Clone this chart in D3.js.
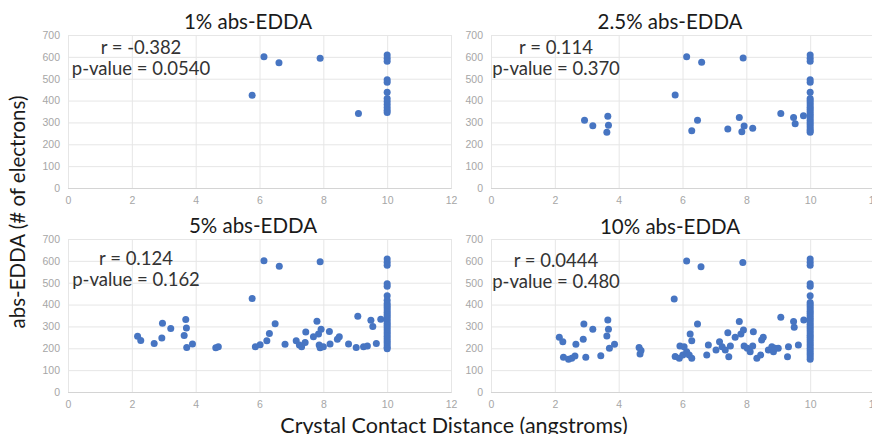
<!DOCTYPE html>
<html>
<head>
<meta charset="utf-8">
<script src="https://cdn.jsdelivr.net/npm/d3@7"></script>
<style>
  body { margin: 0; background: #fff; }
  svg { font-family: Lato, "Open Sans", sans-serif; }
</style>
</head>
<body>
<div class="edda-plot"></div>
<script>
// values (distance in angstroms, abs-EDDA in # of electrons)
const dist1 = [5.77, 6.14, 6.61, 7.9, 9.1, 10, 10, 10, 10, 10, 10, 10, 10, 10, 10, 10, 10];
const edda1 = [424, 600, 573, 594, 341, 608, 594, 580, 495, 484, 438, 410, 396, 382, 368, 356, 345];

const dist2 = [2.93, 3.19, 3.66, 3.68, 3.63, 5.77, 6.13, 6.6, 7.9, 6.29, 6.47, 7.42, 7.78, 7.86, 7.93, 8.2, 9.08, 9.48, 9.53, 9.79,
               10, 10, 10, 10, 10, 10, 10, 10, 10, 10, 10, 10, 10, 10, 10, 10, 10, 10, 10, 10, 10, 10, 10];
const edda2 = [310, 285, 328, 287, 255, 425, 600, 575, 595, 262, 310, 270, 322, 257, 284, 273, 341, 323, 294, 330,
               608, 594, 580, 495, 484, 438, 410, 400, 390, 380, 370, 360, 350, 340, 330, 320, 310, 300, 290, 280, 270, 262, 255];

const dist3 = [2.18, 2.28, 2.7, 2.94, 2.96, 3.22, 3.69, 3.71, 3.64, 3.72, 3.9, 4.63, 4.71, 5.77, 5.87, 6.02, 6.14, 6.23, 6.31, 6.49,
               6.62, 6.8, 7.15, 7.25, 7.32, 7.43, 7.45, 7.69, 7.8, 7.85, 7.93, 7.87, 7.9, 7.9, 8.0, 8.21, 8.19, 8.44, 8.5, 8.79,
               9.03, 9.26, 9.38, 9.66, 9.08, 9.49, 9.55, 9.8,
               10, 10, 10, 10, 10, 10, 10, 10, 10, 10, 10, 10, 10, 10, 10, 10, 10, 10, 10, 10, 10, 10, 10, 10, 10, 10, 10, 10, 10];
const edda3 = [255, 236, 222, 247, 315, 290, 332, 293, 259, 204, 220, 203, 207, 428, 207, 216, 600, 235, 268, 312,
               575, 218, 235, 215, 207, 226, 274, 253, 324, 265, 287, 215, 203, 596, 207, 220, 277, 241, 253, 220,
               204, 207, 210, 222, 346, 328, 300, 333,
               608, 594, 580, 495, 484, 440, 420, 405, 395, 385, 375, 365, 355, 345, 335, 325, 315, 305, 295, 285, 275, 265, 255, 245, 235, 225, 215, 205, 198];

const dist4 = [2.14, 2.25, 2.27, 2.43, 2.53, 2.63, 2.66, 2.91, 2.89, 2.97, 3.19, 3.44, 3.66, 3.68, 3.63, 3.71, 3.87, 4.64, 4.67, 4.7,
               5.74, 6.13, 6.58, 7.89, 6.47, 6.24, 6.29, 5.92, 6.05, 5.77, 5.9, 6.01, 6.13, 6.21, 6.29, 6.76, 6.81, 7.05, 7.16, 7.24,
               7.34, 7.42, 7.45, 7.5, 7.65, 7.78, 7.83, 7.91, 7.93, 8.03, 8.12, 8.22, 8.2, 8.33, 8.45, 8.48, 8.53, 8.69, 8.8, 8.85,
               8.9, 9.0, 9.08, 9.29, 9.32, 9.48, 9.5, 9.63, 9.8,
               10, 10, 10, 10, 10, 10, 10, 10, 10, 10, 10, 10, 10, 10, 10, 10, 10, 10, 10, 10, 10, 10, 10, 10, 10, 10, 10, 10, 10, 10, 10, 10, 10];
const edda4 = [250, 230, 159, 150, 154, 165, 218, 311, 241, 159, 287, 166, 329, 287, 256, 200, 218, 204, 174, 190,
               425, 599, 573, 593, 311, 265, 235, 210, 207, 162, 154, 169, 184, 169, 154, 169, 215, 192, 230, 207,
               192, 271, 161, 210, 250, 322, 265, 284, 210, 200, 184, 276, 210, 154, 169, 238, 250, 192, 207, 184,
               200, 200, 342, 161, 207, 322, 296, 215, 329,
               608, 594, 580, 495, 484, 440, 410, 400, 390, 380, 370, 360, 350, 340, 330, 320, 310, 300, 290, 280, 270, 260, 250, 240, 230, 220, 210, 200, 190, 180, 170, 160, 150];

const titles = ['1% abs-EDDA', '2.5% abs-EDDA', '5% abs-EDDA', '10% abs-EDDA'];
const rValues = ['-0.382', '0.114', '0.124', '0.0444'];
const pValues = ['0.0540', '0.370', '0.162', '0.480'];

const xTicks = [0, 2, 4, 6, 8, 10, 12];
const yTicks = [0, 100, 200, 300, 400, 500, 600, 700];

const panels = [
    {dist: dist1, edda: edda1, left: 68, top: 35, titleX: 248, titleY: 29, statX: 141, statY: 54},
    {dist: dist2, edda: edda2, left: 491, top: 35, titleX: 670, titleY: 29, statX: 556, statY: 54},
    {dist: dist3, edda: edda3, left: 68, top: 239, titleX: 253, titleY: 233, statX: 136, statY: 265},
    {dist: dist4, edda: edda4, left: 491, top: 239, titleX: 670, titleY: 234, statX: 556, statY: 267}
];

const outerWidth = 872;
const outerHeight = 434;
const plotW = 383;
const plotH = 153;

const svg = d3.select('.edda-plot')
            .append('svg')
            .attr('width', outerWidth)
            .attr('height', outerHeight);

panels.forEach((p, i) => {
    const xScale = d3.scaleLinear().domain([0, 12]).range([0, plotW]);
    const yScale = d3.scaleLinear().domain([0, 700]).range([plotH, 0]);

    const g = svg.append('g')
                .attr('transform', `translate(${p.left}, ${p.top})`);

    // vertical grid + x tick labels
    const xAxis = d3.axisBottom(xScale).tickValues(xTicks).tickSize(-plotH).tickPadding(9);
    g.append('g')
        .attr('transform', `translate(0, ${plotH})`)
        .call(xAxis)
        .call(a => a.select('.domain').attr('stroke', '#d4d4d4'))
        .call(a => a.selectAll('.tick line').attr('stroke', '#e6e6e6'))
        .call(a => a.selectAll('.tick text')
                    .attr('fill', '#a6a6a6')
                    .attr('font-size', 10.5));

    // horizontal grid + y tick labels
    const yAxis = d3.axisLeft(yScale).tickValues(yTicks).tickSize(-plotW).tickPadding(8);
    g.append('g')
        .call(yAxis)
        .call(a => a.select('.domain').remove())
        .call(a => a.selectAll('.tick line')
                    .attr('stroke', d => d === 0 ? '#d4d4d4' : '#e6e6e6'))
        .call(a => a.selectAll('.tick text')
                    .attr('fill', '#a6a6a6')
                    .attr('font-size', 10.5));

    g.selectAll('circle')
        .data(p.dist)
        .enter()
        .append('circle')
        .attr('cx', d => xScale(d))
        .attr('cy', (d, j) => yScale(p.edda[j]))
        .attr('r', 3.5)
        .attr('fill', '#4775c2');

    svg.append('text')
        .attr('x', p.titleX)
        .attr('y', p.titleY)
        .attr('text-anchor', 'middle')
        .attr('font-size', 20.5)
        .attr('fill', '#1a1a1a')
        .text(titles[i]);

    svg.append('text')
        .attr('x', p.statX)
        .attr('y', p.statY)
        .attr('text-anchor', 'middle')
        .attr('font-size', 18.5)
        .attr('fill', '#333')
        .text(`r = ${rValues[i]}`);

    svg.append('text')
        .attr('x', p.statX)
        .attr('y', p.statY + 21)
        .attr('text-anchor', 'middle')
        .attr('font-size', 18.5)
        .attr('fill', '#333')
        .text(`p-value = ${pValues[i]}`);
});

svg.append('text')
    .attr('transform', 'translate(25, 212) rotate(-90)')
    .attr('text-anchor', 'middle')
    .attr('font-size', 20.5)
    .attr('fill', '#1a1a1a')
    .text('abs-EDDA (# of electrons)');

svg.append('text')
    .attr('x', 454)
    .attr('y', 433)
    .attr('text-anchor', 'middle')
    .attr('font-size', 21.5)
    .attr('fill', '#1a1a1a')
    .text('Crystal Contact Distance (angstroms)');
</script>
</body>
</html>
